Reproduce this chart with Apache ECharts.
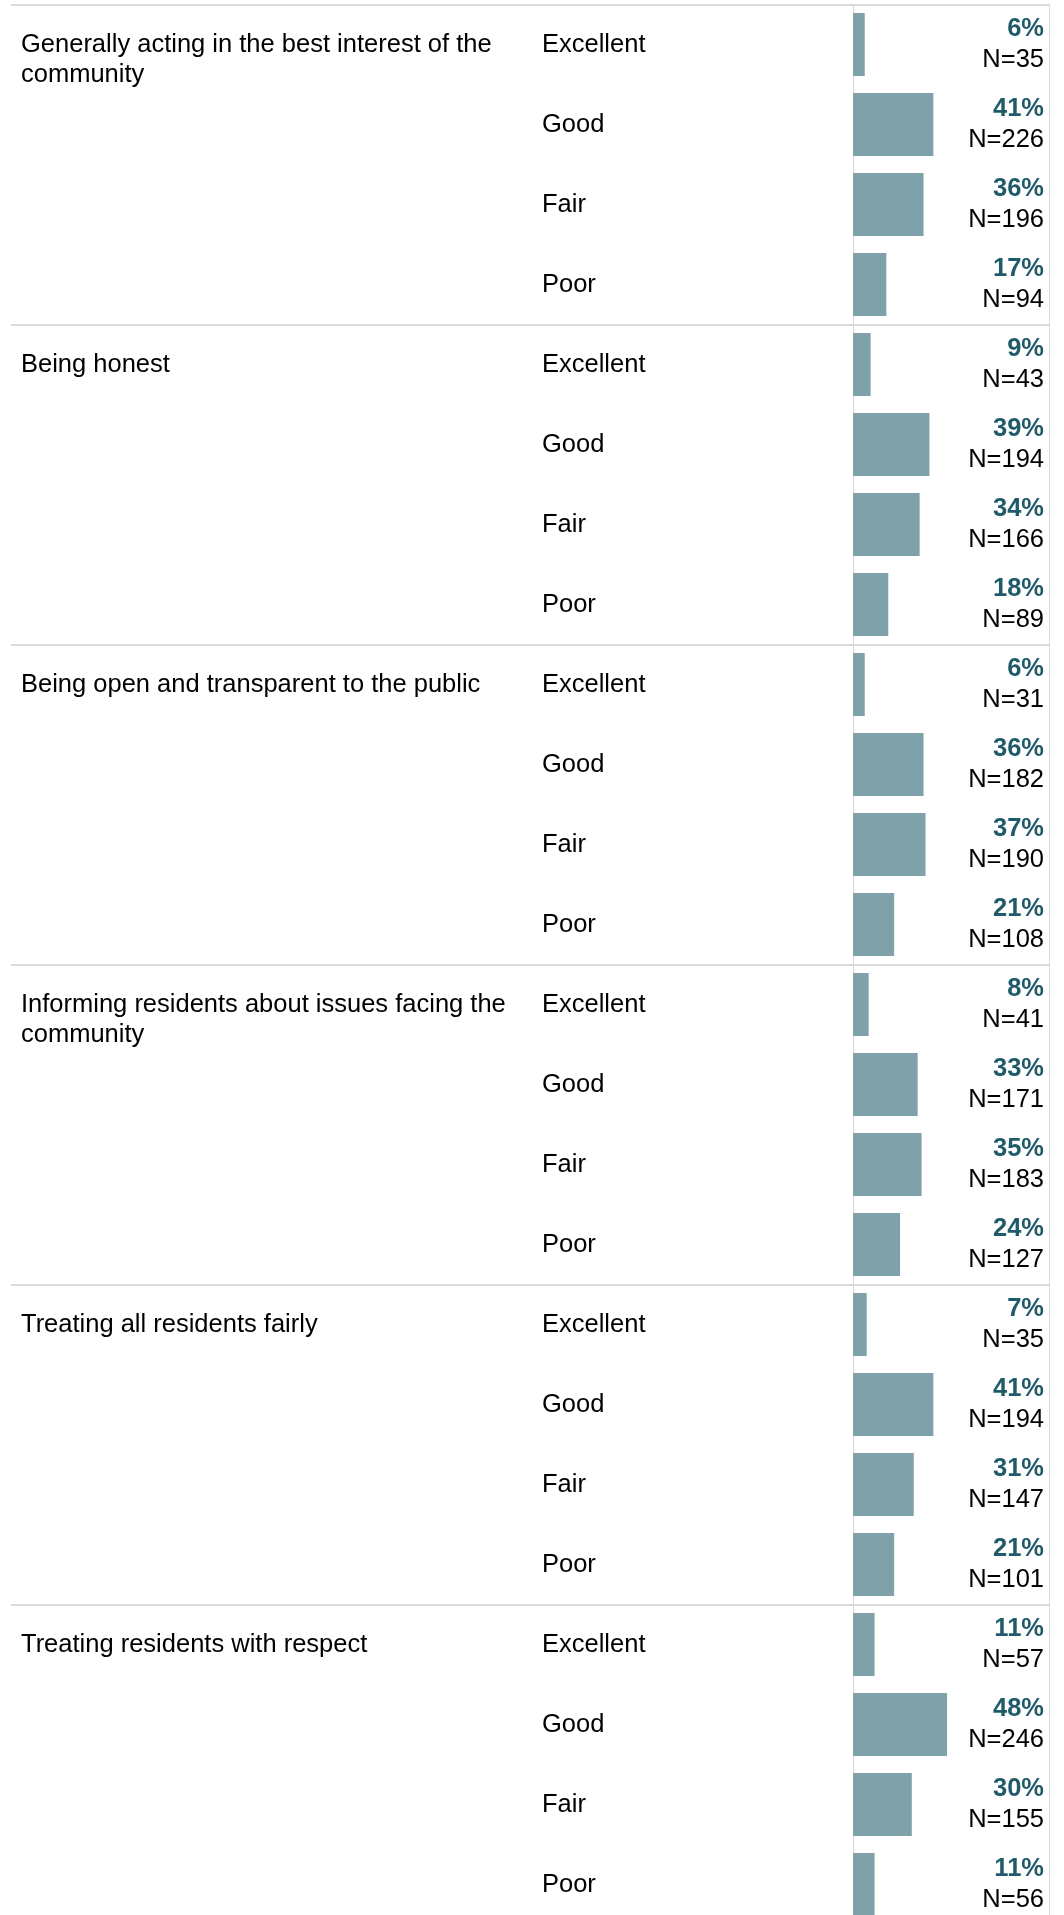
<!DOCTYPE html>
<html>
<head>
<meta charset="utf-8">
<script src="https://cdn.jsdelivr.net/npm/echarts@6/dist/echarts.min.js"></script>
<style>
html,body{margin:0;padding:0;background:#ffffff;}
#chart{width:1064px;height:1915px;}
</style>
</head>
<body>
<div id="chart"></div>
<script>
// ---- data ----
const topics = [
  "Generally acting in the best interest of the\ncommunity",
  "Being honest",
  "Being open and transparent to the public",
  "Informing residents about issues facing the\ncommunity",
  "Treating all residents fairly",
  "Treating residents with respect"
];
const ratings = ["Excellent", "Good", "Fair", "Poor"];

const pctBestInterest = [6, 41, 36, 17];
const nBestInterest   = [35, 226, 196, 94];
const pctHonest       = [9, 39, 34, 18];
const nHonest         = [43, 194, 166, 89];
const pctOpen         = [6, 36, 37, 21];
const nOpen           = [31, 182, 190, 108];
const pctInforming    = [8, 33, 35, 24];
const nInforming      = [41, 171, 183, 127];
const pctFairly       = [7, 41, 31, 21];
const nFairly         = [35, 194, 147, 101];
const pctRespect      = [11, 48, 30, 11];
const nRespect        = [57, 246, 155, 56];

const pctByTopic = [pctBestInterest, pctHonest, pctOpen, pctInforming, pctFairly, pctRespect];
const nByTopic   = [nBestInterest, nHonest, nOpen, nInforming, nFairly, nRespect];

// ---- build rows ----
const rows = [];
topics.forEach(function (t, ti) {
  ratings.forEach(function (r, ri) {
    rows.push({ topic: t, first: ri === 0, rating: r, pct: pctByTopic[ti][ri], n: nByTopic[ti][ri] });
  });
});
const rowIds = rows.map(function (_, i) { return String(i); });

const FONT = '"Liberation Sans", Arial, Helvetica, sans-serif';
const FS = 25.5;
const GRID_TOP = 4.5;
const GRID_H = 1920;

const chart = echarts.init(document.getElementById('chart'), null, { renderer: 'canvas' });
const option = {
  animation: false,
  backgroundColor: '#ffffff',
  textStyle: { fontFamily: FONT },
  grid: [
    { left: 853, right: 15, top: GRID_TOP, height: GRID_H, containLabel: false, outerBoundsMode: 'none' },
    { left: 11, right: 15, top: GRID_TOP, height: GRID_H, containLabel: false, outerBoundsMode: 'none' }
  ],
  xAxis: [
    { type: 'value', gridIndex: 0, min: 0, max: 100, show: false },
    { type: 'value', gridIndex: 1, min: 0, max: 1, show: false }
  ],
  yAxis: [
    {
      type: 'category', gridIndex: 0, inverse: true, position: 'left', data: rowIds,
      axisLine: { show: true, lineStyle: { color: '#d9d9d9', width: 1 } },
      axisTick: { show: false }, splitLine: { show: false },
      axisLabel: {
        interval: 0, margin: 311, align: 'left', fontSize: FS, color: '#000000', fontFamily: FONT,
        formatter: function (v, i) { return rows[i].rating; }
      }
    },
    {
      type: 'category', gridIndex: 0, inverse: true, position: 'right', data: rowIds,
      axisLine: { show: true, lineStyle: { color: '#d9d9d9', width: 1 } },
      axisTick: { show: false }, splitLine: { show: false },
      axisLabel: {
        interval: 0, inside: true, margin: 5, align: 'right', fontFamily: FONT,
        formatter: function (v, i) { return '{p|' + rows[i].pct + '%}\n{n|N=' + rows[i].n + '}'; },
        rich: {
          p: { fontSize: FS, fontWeight: 'bold', color: '#205b6a', lineHeight: 31, fontFamily: FONT, align: 'right' },
          n: { fontSize: FS, color: '#000000', lineHeight: 31, fontFamily: FONT, align: 'right' }
        }
      }
    },
    {
      type: 'category', gridIndex: 1, inverse: true, position: 'left', data: rowIds,
      axisLine: { show: false }, axisTick: { show: false },
      splitLine: {
        show: true,
        interval: function (i) { return i % 4 === 0; },
        lineStyle: { color: '#d9d9d9', width: 2 }
      },
      axisLabel: {
        interval: 0, inside: true, margin: 10, align: 'left', fontSize: FS, lineHeight: 30,
        color: '#000000', fontFamily: FONT,
        formatter: function (v, i) {
          const r = rows[i];
          if (!r.first) return '';
          return r.topic.indexOf('\n') >= 0 ? '\n' + r.topic : r.topic;
        }
      }
    }
  ],
  series: [
    {
      type: 'bar', xAxisIndex: 0, yAxisIndex: 0, silent: true,
      data: rows.map(function (r) { return r.pct; }),
      barWidth: 63,
      itemStyle: { color: '#7fa1aa' }
    }
  ]
};
chart.setOption(option);
</script>
</body>
</html>
